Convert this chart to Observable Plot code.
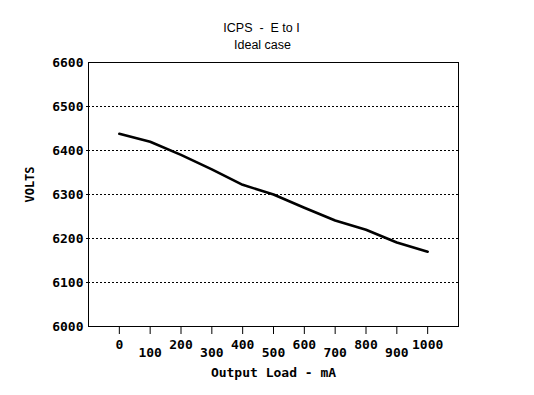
<!DOCTYPE html>
<html>
<head>
<meta charset="utf-8">
<script src="https://cdn.jsdelivr.net/npm/d3@7"></script>
<script src="https://cdn.jsdelivr.net/npm/@observablehq/plot@0.6"></script>
<style>
  html, body { margin: 0; padding: 0; background: #fff; }
  #chart svg { display: block; }
</style>
</head>
<body>
<div id="chart"></div>
<script>
const title = "ICPS  -  E to I";
const subtitle = "Ideal case";
const xLabel = "Output Load - mA";
const yLabel = "VOLTS";
const loads = [0, 100, 200, 300, 400, 500, 600, 700, 800, 900, 1000];
const volts = [6438, 6420, 6390, 6357, 6322, 6300, 6270, 6241, 6220, 6191, 6170];
const yTicks = [6000, 6100, 6200, 6300, 6400, 6500, 6600];
const yGrid = [6100, 6200, 6300, 6400, 6500];
const xTicksUpper = [0, 200, 400, 600, 800, 1000];
const xTicksLower = [100, 300, 500, 700, 900];

const data = loads.map((x, i) => ({x, y: volts[i]}));
const fmt = d => String(d);

const chart = Plot.plot({
  width: 534,
  height: 395,
  marginLeft: 88,
  marginRight: 76,
  marginTop: 62,
  marginBottom: 69,
  style: {background: "#fff", color: "#000", fontFamily: "'DejaVu Sans Mono', monospace", fontSize: "13px", fontWeight: "bold"},
  x: {domain: [-100, 1100]},
  y: {domain: [6000, 6600]},
  marks: [
    Plot.ruleY(yGrid, {stroke: "#000", strokeDasharray: "2,2", strokeWidth: 1}),
    Plot.axisY(yTicks, {tickSize: 0, tickPadding: 5, label: null, tickFormat: fmt, fontWeight: "bold", fontSize: 13}),
    Plot.axisY(yGrid, {tickSize: 4, text: null, label: null, strokeDasharray: "2,2"}),
    Plot.axisX(xTicksUpper, {tickSize: 8, tickPadding: 5, label: null, tickFormat: fmt, strokeOpacity: 1, fontSize: 13}),
    Plot.axisX(xTicksLower, {tickSize: 8, tickPadding: 13, label: null, tickFormat: fmt, strokeOpacity: 1, fontSize: 13}),
    Plot.frame({stroke: "#000", strokeWidth: 1}),
    Plot.line(data, {x: "x", y: "y", stroke: "#000", strokeWidth: 2.6, curve: "linear"}),
    Plot.text([xLabel], {frameAnchor: "bottom", dy: 50, fontWeight: "bold", fontSize: 13}),
    Plot.text([yLabel], {frameAnchor: "left", textAnchor: "middle", dx: -58, dy: -10, rotate: -90, fontWeight: "bold", fontSize: 12}),
    Plot.text([title], {frameAnchor: "top", dx: -12, dy: -39, fontFamily: "'Liberation Sans', Arial, sans-serif", fontWeight: "normal", fontSize: 12.5}),
    Plot.text([subtitle], {frameAnchor: "top", dx: -11, dy: -22, fontFamily: "'Liberation Sans', Arial, sans-serif", fontWeight: "normal", fontSize: 12.5})
  ]
});
document.getElementById("chart").append(chart);
</script>
</body>
</html>
